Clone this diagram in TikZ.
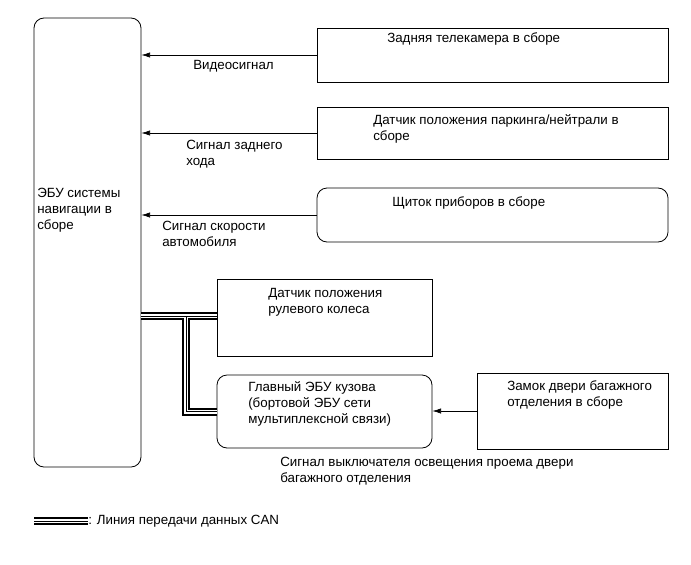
\documentclass[tikz,border=0pt]{standalone}
\usepackage{fontspec}
\setmainfont{Liberation Sans}
\usetikzlibrary{positioning,arrows.meta}
\tikzset{
  box/.style  = {rectangle, draw, line width=0.6pt, inner sep=0pt},
  rbox/.style = {box, rounded corners=7.5pt},
  txt/.style  = {anchor=north west, inner sep=0pt, align=left,
                 font=\fontsize{10}{12}\selectfont},
  arr/.style  = {-{Latex[length=6.5pt,width=4pt]}, line width=0.5pt},
  can/.style  = {line width=6pt, line join=miter,
                 postaction={draw=white, line width=3pt},
                 postaction={draw=black, line width=0.7pt}}
}
\begin{document}
\begin{tikzpicture}[x=0.75pt,y=-0.75pt]
  \useasboundingbox (0,0) rectangle (691,564);

  % blocks
  \node[rbox,minimum width=80.25pt,minimum height=336.75pt] (ecu) at (87.5,242.5) {};
  \node[box,minimum width=263.25pt,minimum height=40.5pt] (cam) at (492.5,55) {};
  \node[box,minimum width=263.25pt,minimum height=39pt] (park) at (492.5,133) {};
  \node[rbox,minimum width=263.25pt,minimum height=40.5pt] (meter) at (492.5,215) {};
  \node[box,minimum width=161.25pt,minimum height=57.75pt] (steer) at (324.5,317.5) {};
  \node[rbox,minimum width=161.25pt,minimum height=54.75pt] (body) at (324.5,411.5) {};
  \node[box,minimum width=143.25pt,minimum height=57pt] (lock) at (572.5,411) {};

  % block texts
  \node[txt] (ecut) at (37,188) {ЭБУ системы\\навигации в\\сборе};
  \node[txt] (camt) at (387,32) {Задняя телекамера в сборе};
  \node[txt] (parkt) at (373,114) {Датчик положения паркинга/нейтрали в\\сборе};
  \node[txt] (metert) at (392,196) {Щиток приборов в сборе};
  \node[txt] (steert) at (268,288) {Датчик положения\\рулевого колеса};
  \node[txt] (bodyt) at (248,381) {Главный ЭБУ кузова\\(бортовой ЭБУ сети\\мультиплексной связи)};
  \node[txt] (lockt) at (507,380) {Замок двери багажного\\отделения в сборе};

  % signals
  \draw[arr] (cam.west) -- (ecu.east |- cam.west);
  \draw[arr] (park.west) -- (ecu.east |- park.west);
  \draw[arr] (meter.west) -- (ecu.east |- meter.west);
  \draw[arr] (lock.west) -- (body.east |- lock.west);

  \node[txt] (video) at (193,60) {Видеосигнал};
  \node[txt] (rev) at (186,140) {Сигнал заднего\\хода};
  \node[txt] (speed) at (162,221) {Сигнал скорости\\автомобиля};
  \node[txt] (door) at (280,457) {Сигнал выключателя освещения проема двери\\багажного отделения};

  % CAN
  \coordinate (tap) at (186,316);
  \draw[can] (ecu.east |- tap) -- (steer.west |- tap)
             (tap) |- (body.west);

  % legend
  \coordinate (legs) at (34,521);
  \node[txt,anchor=west] (leg) at (88,521) {: Линия передачи данных CAN};
  \draw[can] (legs) -- (leg.west);
\end{tikzpicture}
\end{document}
